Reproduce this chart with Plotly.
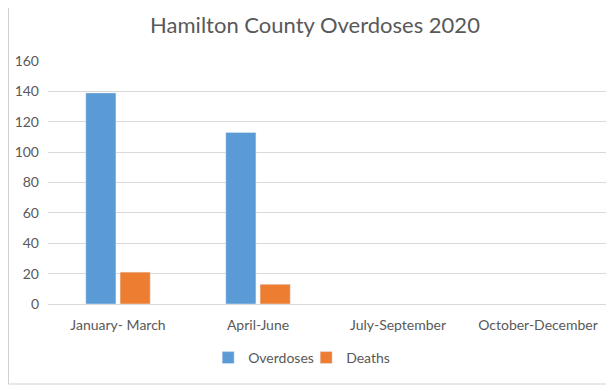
import plotly.graph_objects as go

categories = ["January- March", "April-June", "July-September", "October-December"]
overdoses = [139, 113, None, None]
deaths = [21, 13, None, None]
y_ticks = [0, 20, 40, 60, 80, 100, 120, 140, 160]

# page body has an 8px margin, so the figure is laid out 8px smaller/shifted
OFF = 8
W, H = 614 - OFF, 386 - OFF
L, R, T, B = 48 - OFF, 6, 61 - OFF, 82
PH = H - T - B
PW = W - L - R

fig = go.Figure()
fig.add_trace(go.Bar(name="Overdoses", x=categories, y=overdoses, marker_color="#5B9BD5"))
fig.add_trace(go.Bar(name="Deaths", x=categories, y=deaths, marker_color="#ED7D31"))

font = "Lato, Carlito, Calibri, sans-serif"
fig.update_layout(
    width=W, height=H,
    margin=dict(l=L, r=R, t=T, b=B, autoexpand=False),
    paper_bgcolor="white", plot_bgcolor="white",
    barmode="group", bargap=0.51, bargroupgap=0.12,
    title=dict(text="Hamilton County Overdoses 2020", xref="container",
               x=(315 - OFF) / W, xanchor="center",
               y=1 - (25 - OFF) / H, yanchor="middle",
               font=dict(family=font, size=22, color="#595959")),
    font=dict(family=font, size=14, color="#595959"),
    legend=dict(orientation="h", x=0.461, xanchor="center", y=-(358 - 304) / PH,
                yanchor="middle", font=dict(size=14, color="#595959"),
                itemwidth=30, entrywidth=53, traceorder="normal"),
    showlegend=True,
)
fig.update_yaxes(range=[0, 160], tickvals=y_ticks, showgrid=True, gridcolor="#D9D9D9",
                 gridwidth=1, zeroline=False, showline=False, ticks="", ticklabelstandoff=8,
                 tickfont=dict(size=14, color="#595959"))
fig.update_xaxes(showline=True, linecolor="#D9D9D9", ticks="", tickfont=dict(size=14, color="#595959"),
                 ticklabelstandoff=8)

# Outer frame lines of the surrounding sheet
fx = (0.5 - L) / PW
fy = -(384 - 304) / PH
fig.add_shape(type="line", xref="paper", yref="paper",
              x0=fx, x1=fx, y0=fy, y1=1 + T / PH,
              line=dict(color="#D0D0D0", width=1))
fig.add_shape(type="line", xref="paper", yref="paper",
              x0=fx, x1=1.0, y0=fy, y1=fy,
              line=dict(color="#D0D0D0", width=1))

fig.write_html("out.html")
